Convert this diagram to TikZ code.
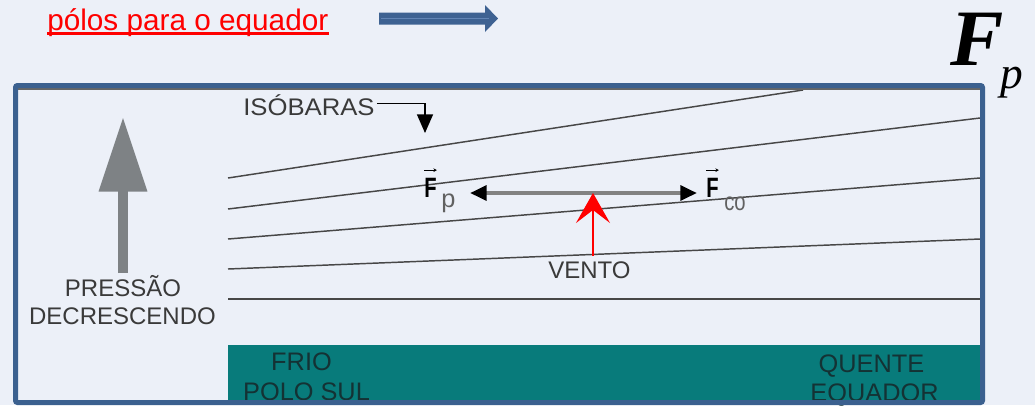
\documentclass[tikz,border=0pt]{standalone}
\usepackage{fontspec}
\setmainfont{Liberation Sans}
\newfontfamily\serifit{Liberation Serif}
\usetikzlibrary{arrows.meta}
\definecolor{bg}{RGB}{236,240,248}
\definecolor{boxblue}{RGB}{59,96,143}
\definecolor{arrowblue}{RGB}{62,98,146}
\definecolor{arrowblueln}{RGB}{98,132,180}
\definecolor{bandteal}{RGB}{8,123,123}
\definecolor{txtgray}{RGB}{58,58,58}
\definecolor{bandtxt}{RGB}{20,50,52}
\definecolor{arrgray}{RGB}{126,130,133}
\definecolor{shaftgray}{RGB}{130,130,130}
\tikzset{
  lbl/.style={inner sep=0, text=txtgray, font=\fontsize{18}{21}\selectfont},
  bandlbl/.style={inner sep=0, text=bandtxt, font=\fontsize{19}{22}\selectfont, anchor=base},
  isobar/.style={draw=black!72, line width=1.1pt},
  subs/.style={inner sep=0, anchor=base west, text=black!62},
  vecF/.style={inner sep=0, anchor=base west, font=\bfseries\fontsize{21}{21}\selectfont},
  vecarrow/.style={line width=0.6pt, -{Stealth[length=2.6pt,width=2.8pt]}}
}
\begin{document}
\begin{tikzpicture}[x=0.75pt,y=-0.75pt]
\fill[bg] (0,0) rectangle (1035,405);
\useasboundingbox (0,0) rectangle (1035,405);

% title
\node[anchor=base west, inner sep=0, text=red, font=\fontsize{22.3}{26}\selectfont] (title) at (47,30) {pólos para o equador};
\draw[red, line width=1.9pt] ([yshift=-2.6pt]title.base west) -- ([yshift=-2.6pt]title.base east);

% block arrow
\fill[arrowblue] (379,12.5) -- (485,12.5) -- (485,5) -- (498,18.5) -- (485,32) -- (485,24.5) -- (379,24.5) -- cycle;
\draw[arrowblueln, line width=0.9pt] (381,18.5) -- (489,18.5);

% big F_p
\node[anchor=base west, inner sep=0, font=\serifit\bfseries\itshape\fontsize{60}{60}\selectfont] (Fbig) at (950,65) {F};
\node[anchor=base west, inner sep=0, font=\serifit\itshape\fontsize{34}{34}\selectfont] (pbig) at (1000,88) {p};

% band
\fill[bandteal] (228,345) rectangle (980,400);
\node[bandlbl] (frio) at (301.5,370) {FRIO};
\node[bandlbl] (polo) at (306.5,400) {POLO SUL};
\node[bandlbl] (quente) at (871.5,372) {QUENTE};
\node[bandlbl] (equador) at (874.5,401) {EQUADOR};

% isobars
\draw[isobar] (228,178) -- (803,90);
\draw[isobar] (228,209) -- (980,118);
\draw[isobar] (228,239) -- (980,178);
\draw[isobar] (228,269) -- (980,239);
\draw[isobar] (228,299) -- (980,299);

% isobaras label
\node[lbl, anchor=base west] (iso) at (243,115) {\scalebox{1.07}[1]{ISÓBARAS}};
\coordinate (isoTip) at (425,133);
\draw[line width=1.1pt, -{Triangle[length=14pt,width=12pt]}] ([xshift=1.5pt,yshift=1pt]iso.east) -- ([yshift=1pt]isoTip |- iso.east) -- (isoTip);

% pressure
\node[lbl, anchor=base] (pres1) at (123,296) {PRESSÃO};
\node[lbl, anchor=base] (pres2) at (122.5,324) {DECRESCENDO};
\coordinate (presTop) at (123,117);
\coordinate (presBot) at (123,273);
\draw[arrgray, line width=7.5pt, -{Triangle[length=56pt,width=34.5pt]}] (presBot) -- (presTop);

% forces
\coordinate (fpTip) at (470,193);
\coordinate (fcoTip) at (697,193);
\draw[shaftgray, line width=3pt, {Triangle[length=12.5pt,width=11pt,color=black]}-{Triangle[length=12.5pt,width=11pt,color=black]}] (fpTip) -- (fcoTip);

\node[vecF] (Fp) at (424,197) {\scalebox{0.72}[1]{F}};
\draw[vecarrow] ([yshift=5.5pt]Fp.north west) -- ([yshift=5.5pt]Fp.north east);
\node[subs, font=\fontsize{19}{19}\selectfont] (psub) at (441,207) {p};

\node[vecF] (Fco) at (706,197) {\scalebox{0.72}[1]{F}};
\draw[vecarrow] ([yshift=5.5pt]Fco.north west) -- ([yshift=5.5pt]Fco.north east);
\node[subs, font=\fontsize{19}{19}\selectfont] (cosub) at (724,210) {\scalebox{0.8}[1]{co}};

% wind
\node[lbl, anchor=base] (vento) at (589.5,278) {VENTO};
\coordinate (wtip) at (593,193);
\draw[red, line width=1.2pt, shorten <=3.75pt, -{Stealth[length=22.5pt,width=25.5pt,inset=9.75pt]}] (vento.north -| wtip) -- (wtip);

% box
\draw[black!60, line width=1pt] (18,89) -- (980,89);
\draw[boxblue, line width=3.75pt, rounded corners=1.5pt] (15.5,85.5) rectangle (982.5,402.5);
\end{tikzpicture}
\end{document}
